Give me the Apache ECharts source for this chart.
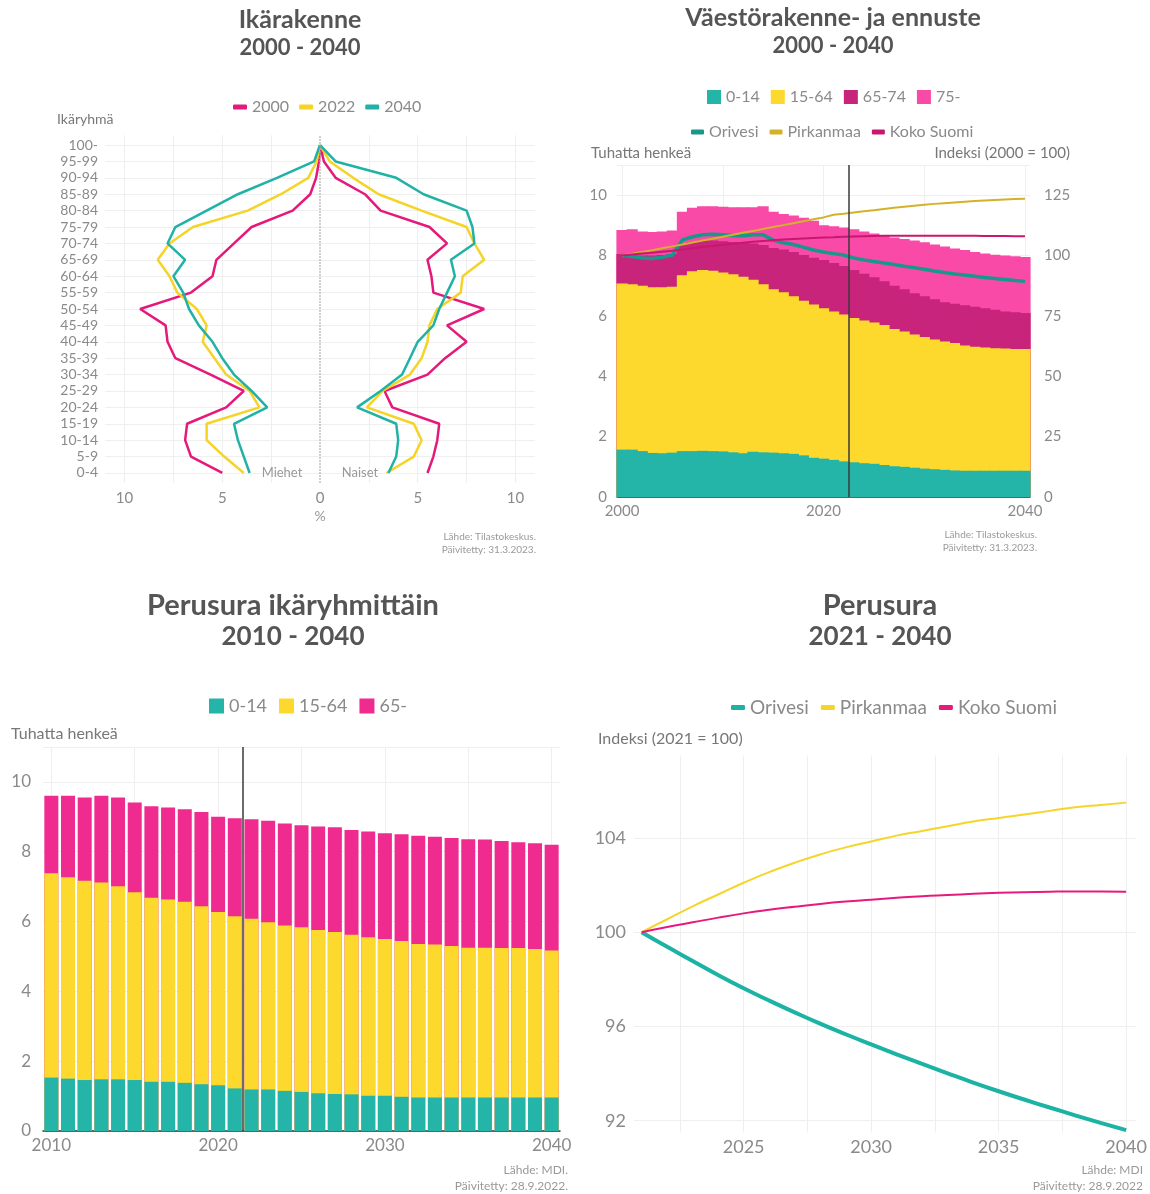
<!DOCTYPE html>
<html><head><meta charset="utf-8">
<script src="https://cdn.jsdelivr.net/npm/echarts@6/dist/echarts.min.js"></script>
<style>html,body{margin:0;padding:0;background:#fff}#c{width:1150px;height:1194px}</style>
</head><body><div id="c"></div>
<script>
// ---------- Panel 1: Ikärakenne (% of sex, by age group) ----------
const ageGroups = ['0-4','5-9','10-14','15-19','20-24','25-29','30-34','35-39','40-44','45-49','50-54','55-59','60-64','65-69','70-74','75-79','80-84','85-89','90-94','95-99','100-'];
const pyramidYears = ['2000','2022','2040'];
const male2000 = [5.0,6.6,6.9,6.8,4.8,3.9,5.6,7.4,7.8,7.9,9.2,6.6,5.5,5.3,4.4,3.5,1.4,0.5,0.2,0.05,0];
const male2022 = [3.9,4.9,5.8,5.8,3.1,3.6,4.8,5.4,6.0,5.8,6.3,7.3,7.7,8.3,7.7,6.5,3.7,2.0,0.6,0.17,0];
const male2040 = [3.6,3.9,4.2,4.4,2.7,3.5,4.4,5.0,5.5,6.2,6.7,7.0,7.5,6.9,7.8,7.4,5.8,4.2,2.2,0.3,0];
const female2000 = [5.5,5.8,6.0,6.1,3.7,3.3,5.5,6.4,7.5,6.5,8.4,5.8,5.7,5.5,6.5,5.6,3.1,2.3,0.8,0.2,0];
const female2022 = [3.4,4.8,5.2,4.8,2.4,3.2,4.6,5.2,5.5,5.6,6.0,7.2,7.3,8.4,7.9,7.5,5.2,3.0,1.7,0.5,0];
const female2040 = [3.5,3.9,4.0,3.9,1.9,3.1,4.2,4.6,5.0,5.8,6.1,6.5,6.9,6.7,7.9,7.8,7.5,5.3,3.9,0.8,0];
const pyrTicks = [-10,-7.5,-5,-2.5,2.5,5,7.5,10];
const pyrLabels = [-10,-5,0,5,10];

// ---------- Panel 2: Väestörakenne- ja ennuste 2000-2040 ----------
const years2 = [2000,2001,2002,2003,2004,2005,2006,2007,2008,2009,2010,2011,2012,2013,2014,2015,2016,2017,2018,2019,2020,2021,2022,2023,2024,2025,2026,2027,2028,2029,2030,2031,2032,2033,2034,2035,2036,2037,2038,2039,2040];
const p2_0_14  = [1.57,1.57,1.52,1.46,1.45,1.47,1.52,1.52,1.53,1.52,1.51,1.48,1.45,1.50,1.48,1.47,1.45,1.43,1.38,1.30,1.27,1.23,1.18,1.15,1.12,1.10,1.06,1.02,1.00,0.97,0.94,0.92,0.90,0.88,0.87,0.87,0.87,0.87,0.87,0.87,0.87];
const p2_15_64 = [5.50,5.48,5.48,5.49,5.50,5.50,5.83,5.96,5.99,5.98,5.93,5.90,5.85,5.70,5.57,5.41,5.33,5.22,5.12,5.08,4.98,4.92,4.87,4.78,4.73,4.68,4.64,4.55,4.48,4.41,4.36,4.30,4.25,4.22,4.15,4.11,4.08,4.06,4.05,4.03,4.03];
const p2_65_74 = [0.98,0.98,1.00,1.05,1.07,1.08,1.00,0.97,0.98,1.00,1.03,1.07,1.12,1.20,1.30,1.37,1.42,1.47,1.52,1.55,1.60,1.60,1.60,1.59,1.55,1.50,1.45,1.43,1.40,1.37,1.35,1.33,1.30,1.30,1.33,1.32,1.30,1.27,1.23,1.22,1.20];
const p2_75    = [0.80,0.84,0.80,0.78,0.78,0.78,1.10,1.13,1.13,1.13,1.15,1.15,1.18,1.20,1.28,1.20,1.18,1.21,1.23,1.22,1.15,1.22,1.28,1.35,1.40,1.45,1.52,1.60,1.67,1.75,1.79,1.82,1.85,1.83,1.83,1.82,1.82,1.83,1.85,1.86,1.85];
const idxOrivesi2   = [100,99.6,99.0,98.8,99.3,100.2,106.5,107.8,108.6,108.8,108.6,108.3,108.2,108.6,108.6,106.4,105.3,104.6,103.5,102.3,101.5,100.8,100.2,99.0,98.2,97.5,96.9,96.3,95.6,95.0,94.3,93.6,93.0,92.4,91.9,91.4,90.9,90.5,90.1,89.7,89.3];
const idxPirkanmaa2 = [100,100.8,101.5,102.2,103.0,103.8,104.6,105.4,106.2,107.0,107.8,108.6,109.4,110.2,111.0,111.8,112.6,113.4,114.2,115.0,115.8,116.9,117.3,117.8,118.3,118.8,119.3,119.8,120.2,120.6,121.0,121.4,121.7,122.0,122.3,122.6,122.8,123.0,123.2,123.4,123.5];
const idxSuomi2     = [100,100.4,100.8,101.2,101.6,102.0,102.5,103.0,103.5,104.0,104.5,104.9,105.3,105.7,106.0,106.3,106.6,106.9,107.1,107.3,107.5,107.6,107.8,107.9,108.0,108.1,108.15,108.2,108.2,108.2,108.2,108.2,108.2,108.2,108.2,108.15,108.1,108.1,108.05,108.0,108.0];
const p2xTicks = [2000,2010,2020,2030,2040];
const p2xLabels = [2000,2020,2040];

// ---------- Panel 3: Perusura ikäryhmittäin 2010-2040 ----------
const years3 = [2010,2011,2012,2013,2014,2015,2016,2017,2018,2019,2020,2021,2022,2023,2024,2025,2026,2027,2028,2029,2030,2031,2032,2033,2034,2035,2036,2037,2038,2039,2040];
const p3_0_14  = [1.53,1.50,1.46,1.48,1.48,1.46,1.41,1.41,1.38,1.34,1.31,1.22,1.19,1.19,1.15,1.12,1.08,1.06,1.05,1.01,1.01,0.98,0.96,0.96,0.96,0.96,0.96,0.96,0.96,0.96,0.96];
const p3_15_64 = [5.85,5.77,5.71,5.64,5.53,5.38,5.27,5.22,5.19,5.10,4.96,4.93,4.89,4.79,4.74,4.72,4.68,4.64,4.57,4.54,4.49,4.46,4.40,4.38,4.34,4.29,4.29,4.28,4.28,4.25,4.21];
const p3_65    = [2.22,2.33,2.38,2.48,2.54,2.57,2.62,2.64,2.65,2.70,2.73,2.81,2.85,2.91,2.92,2.92,2.96,3.00,3.00,3.03,3.03,3.06,3.10,3.09,3.09,3.11,3.10,3.07,3.03,3.03,3.03];
const p3xTicks = [2010,2015,2020,2025,2030,2035,2040];
const p3xLabels = [2010,2020,2030,2040];

// ---------- Panel 4: Perusura 2021-2040 (index 2021 = 100) ----------
const years4 = [2021,2022,2023,2024,2025,2026,2027,2028,2029,2030,2031,2032,2033,2034,2035,2036,2037,2038,2039,2040];
const idxOrivesi4   = [100,99.38,98.78,98.18,97.62,97.1,96.6,96.12,95.67,95.24,94.82,94.41,94.01,93.62,93.25,92.9,92.56,92.23,91.91,91.6];
const idxPirkanmaa4 = [100,100.55,101.1,101.6,102.1,102.55,102.95,103.3,103.6,103.85,104.1,104.3,104.5,104.7,104.85,105.0,105.15,105.3,105.4,105.5];
const idxSuomi4     = [100,100.22,100.42,100.62,100.8,100.95,101.08,101.2,101.3,101.38,101.46,101.53,101.58,101.63,101.67,101.7,101.72,101.73,101.73,101.72];
const p4xTicks = [2022.5,2025,2027.5,2030,2032.5,2035,2037.5,2040];
const p4xLabels = [2025,2030,2035,2040];
const p4yTicks = [92,96,100,104];

// ---------- styling ----------
const FONT = 'Lato, "Noto Sans", sans-serif';
const TXT = '#8a8a8a';
const GRIDC = '#efefef';
const col = {
  pk: '#e5197a', ye: '#f5d327', te: '#20b2a6',
  b_te: '#25b4a8', b_ye: '#fdd92d', b_mg: '#c8247c', b_pk: '#f94aa8',
  l_or: '#16988a', l_pi: '#d3b22a', l_ks: '#c8176f',
  p3pk: '#ef2b90'
};
// cumulative tops of stacked groups (bars are drawn overlapped, tallest first)
const cumul = (arrs) => arrs[0].map((_, i) => arrs.reduce((s, a) => s + a[i], 0));
const zip = (xs, vs) => xs.map((x, i) => [x, +vs[i].toFixed(3)]);

function lineS(name, data, color, width, xi, yi, extra) {
  return Object.assign({
    type: 'line', name, data, xAxisIndex: xi, yAxisIndex: yi,
    showSymbol: false, symbol: 'none',
    itemStyle: { color }, lineStyle: { color, width }
  }, extra || {});
}
function barS(name, data, color, xi, yi, gap, width, extra) {
  const s = {
    type: 'bar', name, data, xAxisIndex: xi, yAxisIndex: yi,
    barGap: '-100%', barCategoryGap: gap, itemStyle: { color }
  };
  if (width) s.barWidth = width;
  return Object.assign(s, extra || {});
}
function txt(text, x, y, size, color, align, weight) {
  return { type: 'text', x, y, silent: true, z: 100, style: {
    text, fill: color, font: (weight || 'normal') + ' ' + size + 'px ' + FONT,
    textAlign: align, align: align, textVerticalAlign: 'middle', verticalAlign: 'middle'
  }};
}
const vline = (x) => ({ silent: true, symbol: 'none', label: { show: false },
  lineStyle: { color: '#3a3a3a', type: 'solid', width: 1.5 }, data: [{ xAxis: x }] });

const axLabel = (size) => ({ color: TXT, fontFamily: FONT, fontSize: size });

const series = [];
// panel 1
const pyr = [[male2000, female2000, col.pk], [male2022, female2022, col.ye], [male2040, female2040, col.te]];
pyr.forEach((p, k) => {
  series.push(lineS(pyramidYears[k], p[0].map((v, i) => [-v, i]), p[2], 2.5, 0, 0,
    k === 0 ? { markLine: { silent: true, symbol: 'none', label: { show: false },
      lineStyle: { color: '#aaa', type: 'dotted', width: 1.5 }, data: [{ xAxis: 0 }] } } : {}));
  series.push(lineS(pyramidYears[k], p[1].map((v, i) => [v, i]), p[2], 2.5, 0, 0));
});
// panel 2 (stack tops)
series.push(barS('75-', zip(years2, cumul([p2_0_14, p2_15_64, p2_65_74, p2_75])), col.b_pk, 1, 1, '0%', '112%'));
series.push(barS('65-74', zip(years2, cumul([p2_0_14, p2_15_64, p2_65_74])), col.b_mg, 1, 1, '0%', '112%'));
series.push(barS('15-64', zip(years2, cumul([p2_0_14, p2_15_64])), col.b_ye, 1, 1, '0%', '112%'));
series.push(barS('0-14', zip(years2, p2_0_14), col.b_te, 1, 1, '0%', '112%', { markLine: vline(2022.5) }));
series.push(lineS('Orivesi', zip(years2, idxOrivesi2), col.l_or, 3.5, 1, 2));
series.push(lineS('Pirkanmaa', zip(years2, idxPirkanmaa2), col.l_pi, 2, 1, 2));
series.push(lineS('Koko Suomi', zip(years2, idxSuomi2), col.l_ks, 2, 1, 2));
// panel 3 (stack tops)
series.push(barS('65-', zip(years3, cumul([p3_0_14, p3_15_64, p3_65])), col.p3pk, 2, 3, '16%'));
series.push(barS('15-64\u200b', zip(years3, cumul([p3_0_14, p3_15_64])), col.b_ye, 2, 3, '16%'));
series.push(barS('0-14\u200b', zip(years3, p3_0_14), col.b_te, 2, 3, '16%', null, { markLine: vline(2021.5) }));
// panel 4
series.push(lineS('Orivesi\u200b', zip(years4, idxOrivesi4), '#1cb3a5', 4, 3, 4, { smooth: true }));
series.push(lineS('Pirkanmaa\u200b', zip(years4, idxPirkanmaa4), '#f6d52a', 2, 3, 4, { smooth: true }));
series.push(lineS('Koko Suomi\u200b', zip(years4, idxSuomi4), '#e8197c', 2, 3, 4, { smooth: true }));

const splitL = { show: true, lineStyle: { color: GRIDC, width: 1 } };
const noLine = { show: false };

const option = {
  animation: false,
  backgroundColor: '#fff',
  textStyle: { fontFamily: FONT },
  grid: [
    { left: 105, top: 135.2, width: 430, height: 347.6 },
    { left: 617, top: 165, width: 413, height: 332 },
    { left: 43, top: 747, width: 517, height: 384 },
    { left: 634, top: 755.5, width: 503, height: 377 }
  ],
  xAxis: [
    { gridIndex: 0, type: 'value', min: -11, max: 11,
      axisLine: noLine, axisTick: { show: false, customValues: pyrTicks },
      splitLine: splitL,
      axisLabel: Object.assign(axLabel(15), { customValues: pyrLabels, margin: 8, formatter: v => String(Math.abs(v)) }) },
    { gridIndex: 1, type: 'value', min: 1999.5, max: 2040.5,
      axisLine: { show: true, onZero: false, lineStyle: { color: '#333', width: 1.5 } },
      axisTick: { show: false, customValues: p2xTicks }, splitLine: splitL,
      axisLabel: Object.assign(axLabel(15), { customValues: p2xLabels, margin: 7, formatter: v => String(v) }) },
    { gridIndex: 2, type: 'value', min: 2009.5, max: 2040.5,
      axisLine: { show: true, onZero: false, lineStyle: { color: '#333', width: 1.5 } },
      axisTick: { show: false, customValues: p3xTicks }, splitLine: splitL,
      axisLabel: Object.assign(axLabel(17), { customValues: p3xLabels, margin: 6, formatter: v => String(v) }) },
    { gridIndex: 3, type: 'value', min: 2020.7, max: 2040.4,
      axisLine: noLine, axisTick: { show: false, customValues: p4xTicks }, splitLine: splitL,
      axisLabel: Object.assign(axLabel(18), { customValues: p4xLabels, margin: 6, formatter: v => String(v) }) }
  ],
  yAxis: [
    { gridIndex: 0, type: 'value', min: -0.6, max: 20.6,
      axisLine: noLine, axisTick: { show: false, customValues: ageGroups.map((a, i) => i) }, splitLine: splitL,
      axisLabel: Object.assign(axLabel(14), { customValues: ageGroups.map((a, i) => i), margin: 7, formatter: v => ageGroups[Math.round(v)] }) },
    { gridIndex: 1, type: 'value', min: 0, max: 11, interval: 2,
      axisLine: noLine, axisTick: noLine, splitLine: splitL,
      axisLabel: Object.assign(axLabel(15), { margin: 10, showMaxLabel: false }) },
    { gridIndex: 1, type: 'value', position: 'right', min: 0, max: 137.5, interval: 25,
      axisLine: noLine, axisTick: noLine, splitLine: noLine,
      axisLabel: Object.assign(axLabel(15), { margin: 14, showMaxLabel: false }) },
    { gridIndex: 2, type: 'value', min: 0, max: 11, interval: 2,
      axisLine: noLine, axisTick: noLine, splitLine: splitL,
      axisLabel: Object.assign(axLabel(17), { margin: 12, showMaxLabel: false }) },
    { gridIndex: 3, type: 'value', min: 91.5, max: 107.5,
      axisLine: noLine, axisTick: { show: false, customValues: p4yTicks }, splitLine: splitL,
      axisLabel: Object.assign(axLabel(18), { customValues: p4yTicks, margin: 8 }) }
  ],
  legend: [
    { data: pyramidYears, left: 228, top: 94, icon: 'roundRect', itemWidth: 14, itemHeight: 5, itemGap: 10,
      textStyle: { color: TXT, fontSize: 16, fontFamily: FONT } },
    { data: ['0-14','15-64','65-74','75-'], left: 702, top: 84, icon: 'rect', itemWidth: 14, itemHeight: 14, itemGap: 11,
      textStyle: { color: TXT, fontSize: 16, fontFamily: FONT } },
    { data: ['Orivesi','Pirkanmaa','Koko Suomi'], left: 686, top: 119, icon: 'roundRect', itemWidth: 13, itemHeight: 5, itemGap: 11,
      textStyle: { color: TXT, fontSize: 16, fontFamily: FONT } },
    { data: ['0-14\u200b','15-64\u200b','65-'], left: 204, top: 692, icon: 'rect', itemWidth: 15, itemHeight: 15, itemGap: 12,
      textStyle: { color: TXT, fontSize: 18, fontFamily: FONT } },
    { data: ['Orivesi\u200b','Pirkanmaa\u200b','Koko Suomi\u200b'], left: 726, top: 693, icon: 'roundRect', itemWidth: 14, itemHeight: 5, itemGap: 12,
      textStyle: { color: TXT, fontSize: 19, fontFamily: FONT } }
  ],
  series,
  graphic: [
    txt('Ikärakenne', 300, 20, 25, '#555', 'center', 'bold'),
    txt('2000 - 2040', 300, 48, 22, '#555', 'center', 'bold'),
    txt('Väestörakenne- ja ennuste', 833, 18, 25, '#555', 'center', 'bold'),
    txt('2000 - 2040', 833, 46, 22, '#555', 'center', 'bold'),
    txt('Perusura ikäryhmittäin', 293, 606, 29, '#555', 'center', 'bold'),
    txt('2010 - 2040', 293, 637, 26, '#555', 'center', 'bold'),
    txt('Perusura', 880, 606, 29, '#555', 'center', 'bold'),
    txt('2021 - 2040', 880, 637, 26, '#555', 'center', 'bold'),
    txt('Ikäryhmä', 57, 119, 14, '#777', 'left'),
    txt('Miehet', 282, 473, 13, '#999', 'center'),
    txt('Naiset', 360, 473, 13, '#999', 'center'),
    txt('%', 320, 516, 14, '#999', 'center'),
    txt('Lähde: Tilastokeskus.', 536, 537, 10, '#999', 'right'),
    txt('Päivitetty: 31.3.2023.', 536, 550, 10, '#999', 'right'),
    txt('Tuhatta henkeä', 591, 153, 15, '#777', 'left'),
    txt('Indeksi (2000 = 100)', 1070, 153, 15, '#777', 'right'),
    txt('Lähde: Tilastokeskus.', 1037, 535, 10, '#999', 'right'),
    txt('Päivitetty: 31.3.2023.', 1037, 548, 10, '#999', 'right'),
    txt('Tuhatta henkeä', 11, 734, 16, '#777', 'left'),
    txt('Lähde: MDI.', 568, 1170, 12, '#999', 'right'),
    txt('Päivitetty: 28.9.2022.', 568, 1186, 12, '#999', 'right'),
    txt('Indeksi (2021 = 100)', 598, 739, 16, '#777', 'left'),
    txt('Lähde: MDI', 1143, 1170, 12, '#999', 'right'),
    txt('Päivitetty: 28.9.2022', 1143, 1186, 12, '#999', 'right')
  ]
};
const chart = echarts.init(document.getElementById('c'));
chart.setOption(option);
</script></body></html>
